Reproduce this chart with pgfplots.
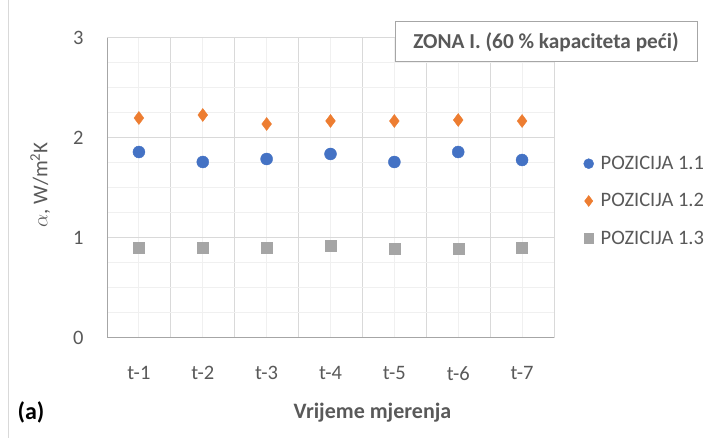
\documentclass[border=0pt]{standalone}
\usepackage{pgfplots}
\pgfplotsset{compat=1.18}
\usepackage{fontspec}
\setmainfont{Carlito}
\definecolor{txt}{HTML}{595959}
\definecolor{gridD}{HTML}{D9D9D9}
\definecolor{gridL}{HTML}{F0F0F0}
\definecolor{axc}{HTML}{A6A6A6}
\definecolor{sA}{HTML}{4472C4}
\definecolor{sB}{HTML}{ED7D31}
\definecolor{sC}{HTML}{A5A5A5}
\begin{document}
\begin{tikzpicture}[x=1pt,y=1pt]
\useasboundingbox (0,0) rectangle (712,438);
\draw[gridD, line width=1pt] (8,0) -- (8,438);
\begin{axis}[
  at={(107pt,100pt)}, anchor=south west, scale only axis,
  width=447pt, height=300pt,
  xmin=0.5, xmax=7.5, ymin=0, ymax=3,
  xtick={1,2,3,4,5,6,7},
  xticklabels={\mbox{t-1},\mbox{t-2},\mbox{t-3},\mbox{t-4},\mbox{t-5},\mbox{t-6},\mbox{t-7}},
  minor xtick={0.5,1.5,2.5,3.5,4.5,5.5,6.5,7.5},
  ytick={0,1,2,3},
  minor ytick={0.25,0.5,0.75,1.25,1.5,1.75,2.25,2.5,2.75},
  grid=both,
  major x grid style={gridL, line width=1pt},
  minor x grid style={gridD, line width=1pt},
  major y grid style={gridD, line width=1pt},
  minor y grid style={gridL, line width=1pt},
  axis line style={draw=none},
  major tick length=0pt, minor tick length=0pt,
  /pgf/number format/assume math mode=true,
  ticklabel style={font=\fontsize{20.5}{24}\selectfont, text=txt},
  yticklabel style={xshift=-20pt},
  xticklabel style={yshift=-25pt},
  every axis y label/.style={at={(axis description cs:-0.1496,0.51)}, rotate=90, anchor=center},
  ylabel={\fontsize{21}{24}\selectfont\color{txt}$\alpha$, W/m\textsuperscript{2}K},
  every axis x label/.style={at={(axis description cs:0.594,-0.25)}, anchor=center},
  xlabel={\fontsize{22}{26}\selectfont\bfseries\color{txt}Vrijeme mjerenja},
  legend style={at={(axis description cs:1.066,0.613)}, anchor=north west, draw=none, fill=none,
    font=\fontsize{20.5}{24}\selectfont, text=txt, row sep=18.5pt, inner sep=0pt,
    /tikz/every odd column/.append style={column sep=5pt}},
  legend cell align=left,
  legend image code/.code={\draw[#1, only marks] plot coordinates {(6pt,0pt)};},
]
\addplot[only marks, mark=*, mark size=6pt, color=sA, legend image post style={mark size=5pt}] coordinates {
 (1,1.86) (2,1.76) (3,1.79) (4,1.84) (5,1.76) (6,1.86) (7,1.78)};
\addlegendentry{POZICIJA 1.1}
\addplot[only marks, mark=diamond*, mark size=6.5pt, color=sB, legend image post style={mark size=5.5pt}] coordinates {
 (1,2.20) (2,2.23) (3,2.14) (4,2.17) (5,2.17) (6,2.18) (7,2.17)};
\addlegendentry{POZICIJA 1.2}
\addplot[only marks, mark=square*, mark size=5.5pt, color=sC, legend image post style={mark size=4.8pt}] coordinates {
 (1,0.90) (2,0.90) (3,0.90) (4,0.92) (5,0.89) (6,0.89) (7,0.90)};
\addlegendentry{POZICIJA 1.3}
\draw[axc, line width=1pt] (rel axis cs:0,0) -- (rel axis cs:0,1);
\draw[axc, line width=1pt] (rel axis cs:0,0) -- (rel axis cs:1,0);
\end{axis}
\node[draw=axc, line width=1pt, fill=white, minimum width=302pt, minimum height=40pt,
  font=\fontsize{21.3}{24}\selectfont\bfseries, text=txt] at (546,396) {ZONA I. (60 \% kapaciteta peći)};
\node[font=\fontsize{24}{28}\selectfont\bfseries] at (31,26) {(a)};
\end{tikzpicture}
\end{document}
